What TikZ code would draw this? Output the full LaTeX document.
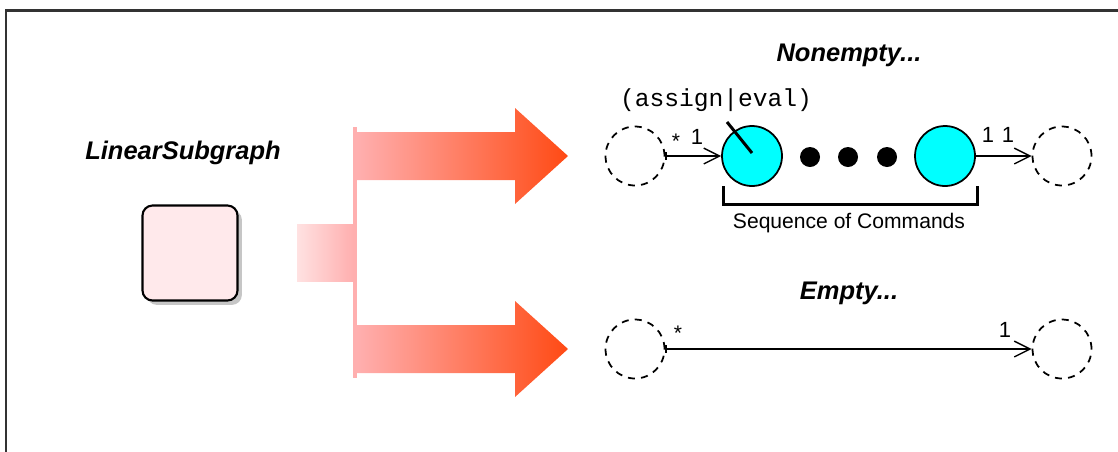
\documentclass[tikz,border=0pt]{standalone}
\usepackage{fontspec}
\setmainfont{Liberation Sans}
\setmonofont{Liberation Mono}
\usetikzlibrary{arrows.meta}
\usetikzlibrary{shadows, calc}
\definecolor{boxpink}{HTML}{FFE9EB}
\definecolor{forkpale}{HTML}{FFE2E2}
\definecolor{forkpink}{HTML}{FFAFAF}
\definecolor{forkred}{HTML}{FF4A14}
\definecolor{cmdcyan}{HTML}{00FFFF}
\definecolor{framegray}{HTML}{333333}

\tikzset{
    heading/.style={font=\fontsize{14.5}{17}\selectfont\bfseries\itshape},
    mult/.style={font=\fontsize{12.5}{14}\selectfont, inner sep=0pt},
    multstar/.style={font=\fontsize{12}{14}\selectfont, inner sep=0pt},
    hole/.style={circle, draw, dash pattern=on 4pt off 3.5pt,
        line width=1pt, minimum size=1.18cm, inner sep=0pt},
    cmd/.style={circle, draw, fill=cmdcyan, line width=1pt,
        minimum size=1.2cm, inner sep=0pt},
    link/.style={line width=0.8pt,
        {Bar[width=4pt]}-{Straight Barb[length=9pt, width=9pt]}},
    linkout/.style={line width=0.8pt, -{Straight Barb[length=9pt, width=9pt]}},
}

\begin{document}
\begin{tikzpicture}[x=0.02cm, y=-0.02cm]
\useasboundingbox (0,0) rectangle (1118,451);

% frame, cut off at the right and bottom
\draw[line width=1.3pt, framegray] (6,460) -- (6,10.5) -- (1125,10.5);

\node[heading] (lsgtitle) at (183,153) {LinearSubgraph};
\node[draw, line width=1.2pt, fill=boxpink, rounded corners=0.2cm,
    minimum size=1.9cm,
    drop shadow={shadow xshift=2.5pt, shadow yshift=-2.5pt, opacity=0.45}]
    (lsg) at (190,253) {};

% the fork
\shade[left color=forkpale, right color=forkpink] (297,224) rectangle (353,281);
\fill[forkpink] (353,127) rectangle (357,378);
\foreach \y in {156,349}
    \shade[left color=forkpink, right color=forkred]
    (357,\y-24) -- (515,\y-24) -- (515,\y-48) -- (568,\y)
    -- (515,\y+48) -- (515,\y+24) -- (357,\y+24) -- cycle;

% nonempty
\node[heading] (netitle) at (849,55) {Nonempty...};
\node[hole] (srcA) at (635,156) {};
\node[cmd] (cmdA) at (752,156) {};
\node[cmd] (cmdB) at (945,156) {};
\node[hole] (dstA) at (1062,156) {};
\foreach \x in {810,848,887}
    \fill (\x,157) circle (0.2cm);
\draw[link] (srcA) -- (cmdA);
\draw[linkout] (cmdB) -- (dstA);
\node[multstar] (starA) at (676,141) {*};
\node[mult] (oneA) at (697,137) {1};
\node[mult] (oneB) at (988,135) {1};
\node[mult] (oneC) at (1008,135) {1};

\node[font=\fontsize{14}{16}\selectfont\ttfamily] (tag) at (716,100) {(assign|eval)};
\coordinate (tagfoot) at (727,122);
\draw[line width=1.7pt] (tagfoot) -- ($(cmdA.center)+(0,-3)$);

\draw[line width=1.7pt] (723,186) -- (723,204) -- (977,204) -- (977,186);
\node[font=\fontsize{12}{14}\selectfont] (seqlbl) at (849,223) {Sequence of Commands};

% empty
\node[heading] (emtitle) at (849,293) {Empty...};
\node[hole] (srcB) at (635,349) {};
\node[hole] (dstB) at (1062,349) {};
\draw[link] (srcB) -- (dstB);
\node[multstar] (starB) at (678,333) {*};
\node[mult] (oneD) at (1005,330) {1};

\end{tikzpicture}
\end{document}
